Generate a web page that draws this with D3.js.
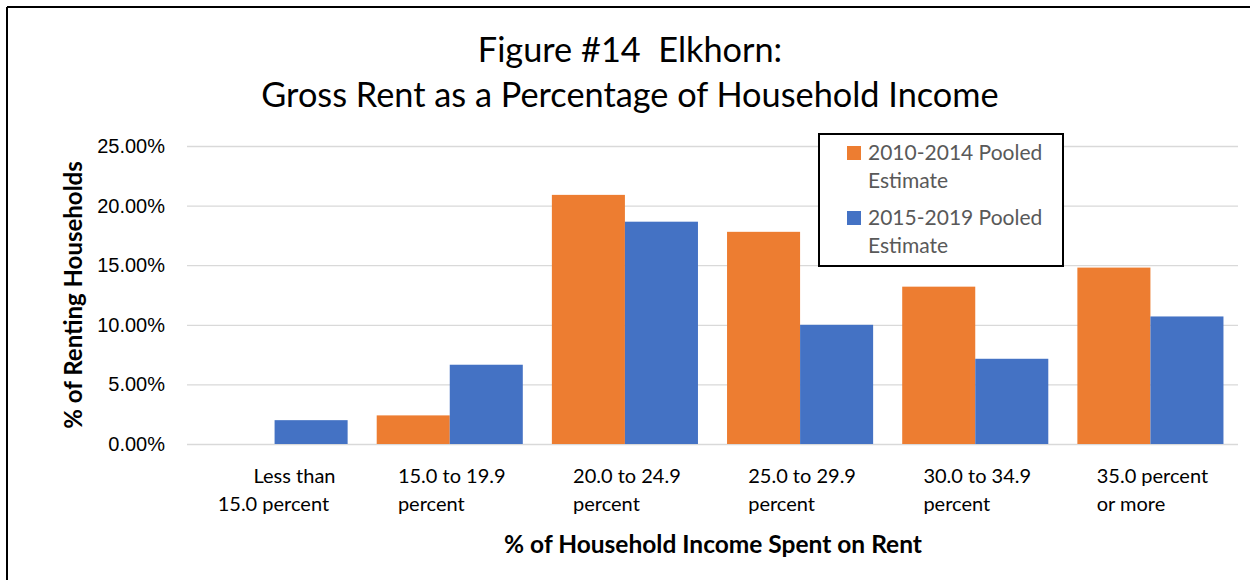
<!DOCTYPE html>
<html>
<head>
<meta charset="utf-8">
<script src="https://cdn.jsdelivr.net/npm/d3@7"></script>
<style>
  html, body { margin: 0; padding: 0; background: #fff; overflow: hidden; }
  svg { display: block; font-family: Lato, "Open Sans", sans-serif; }
  .tick text { fill: #000; }
</style>
</head>
<body>
<svg width="1250" height="580"></svg>
<script>
// values (percent of renting households)
const categories = ['Less than 15.0 percent', '15.0 to 19.9 percent', '20.0 to 24.9 percent',
                    '25.0 to 29.9 percent', '30.0 to 34.9 percent', '35.0 percent or more'];
const catLines = [['\u00a0\u00a0\u00a0\u00a0\u00a0\u00a0\u00a0Less than', '15.0 percent'],
                  ['15.0 to 19.9', 'percent'], ['20.0 to 24.9', 'percent'],
                  ['25.0 to 29.9', 'percent'], ['30.0 to 34.9', 'percent'],
                  ['35.0 percent', 'or more']];
const seriesNames = ['2010-2014 Pooled Estimate', '2015-2019 Pooled Estimate'];
const legendLines = [['2010-2014 Pooled', 'Estimate'], ['2015-2019 Pooled', 'Estimate']];
const est2010 = [0, 2.4, 20.9, 17.8, 13.2, 14.8];
const est2015 = [2.0, 6.65, 18.65, 10.0, 7.15, 10.7];
const yTicks = [0, 5, 10, 15, 20, 25];
const colors = ['#ED7D31', '#4472C4'];

const svg = d3.select('svg');
const margin = {top: 146, left: 187, right: 12, bottom: 136};
const width = +svg.attr('width');
const height = +svg.attr('height');
const innerWidth = width - margin.left - margin.right;
const innerHeight = height - margin.top - margin.bottom;

// outer frame: left and top edges, plus the parts that show at right and bottom
svg.append('line').attr('x1', 7).attr('y1', 7).attr('x2', width).attr('y2', 7)
  .attr('stroke', '#000').attr('stroke-width', 2);
svg.append('line').attr('x1', 7).attr('y1', 7).attr('x2', 7).attr('y2', height)
  .attr('stroke', '#000').attr('stroke-width', 2);

const x0 = d3.scaleBand().domain(categories).range([0, innerWidth])
  .paddingInner(0.166).paddingOuter(0.083);
const x1 = d3.scaleBand().domain(seriesNames).range([0, x0.bandwidth()]);
const y = d3.scaleLinear().domain([0, 25]).range([innerHeight, 0]);

const g = svg.append('g').attr('transform', `translate(${margin.left},${margin.top})`);

// gridlines + y labels
const yAxis = g.append('g')
  .call(d3.axisLeft(y).tickValues(yTicks).tickSize(-innerWidth).tickPadding(22)
    .tickFormat(d => d.toFixed(2) + '%'));
yAxis.select('.domain').remove();
yAxis.selectAll('.tick line').attr('stroke', '#D9D9D9').attr('stroke-width', 1.3);
yAxis.selectAll('.tick text').attr('font-size', 20);

// bars
const rows = categories.map((c, i) => ({cat: c, vals: [est2010[i], est2015[i]]}));
g.selectAll('.grp')
  .data(rows)
  .join('g')
  .attr('class', 'grp')
  .attr('transform', d => `translate(${x0(d.cat)},0)`)
  .selectAll('rect')
  .data(d => d.vals.map((v, k) => ({name: seriesNames[k], v, k})))
  .join('rect')
  .attr('x', d => x1(d.name))
  .attr('y', d => y(d.v))
  .attr('width', x1.bandwidth())
  .attr('height', d => innerHeight - y(d.v))
  .attr('fill', d => colors[d.k]);

// x category labels (two lines, block centred, lines left aligned)
const xLab = g.append('g').attr('font-size', 20);
categories.forEach((c, i) => {
  const t = xLab.append('text')
    .attr('y', innerHeight + 39);
  catLines[i].forEach((ln, j) => {
    t.append('tspan').attr('x', 0).attr('dy', j ? 28 : 0).text(ln);
  });
  const w = t.node().getBBox().width;
  t.attr('transform', `translate(${x0(c) + x0.bandwidth() / 2 - w / 2 + 2},0)`);
});

// axis titles
svg.append('text')
  .attr('x', 713).attr('y', 553)
  .attr('text-anchor', 'middle')
  .attr('font-size', 24.5).attr('font-weight', 'bold')
  .text('% of Household Income Spent on Rent');
svg.append('text')
  .attr('transform', `translate(82,${margin.top + innerHeight / 2}) rotate(-90)`)
  .attr('text-anchor', 'middle')
  .attr('font-size', 24).attr('font-weight', 'bold')
  .text('% of Renting Households');

// chart title
const title = svg.append('text').attr('text-anchor', 'middle').attr('font-size', 34.3);
title.append('tspan').attr('x', 630).attr('y', 62).text('Figure #14\u00a0\u00a0Elkhorn:');
title.append('tspan').attr('x', 630).attr('y', 107).text('Gross Rent as a Percentage of Household Income');

// legend
const lg = svg.append('g').attr('transform', 'translate(819,134)');
lg.append('rect').attr('width', 244).attr('height', 132)
  .attr('fill', '#fff').attr('stroke', '#000').attr('stroke-width', 2);
legendLines.forEach((lines, i) => {
  const row = lg.append('g').attr('transform', `translate(0,${i * 65})`);
  row.append('rect').attr('x', 28).attr('y', 12).attr('width', 14).attr('height', 14)
    .attr('fill', colors[i]);
  const t = row.append('text').attr('font-size', 21).attr('fill', '#595959');
  lines.forEach((ln, j) => {
    t.append('tspan').attr('x', 49).attr('y', 26 + j * 28).text(ln);
  });
});
</script>
</body>
</html>
